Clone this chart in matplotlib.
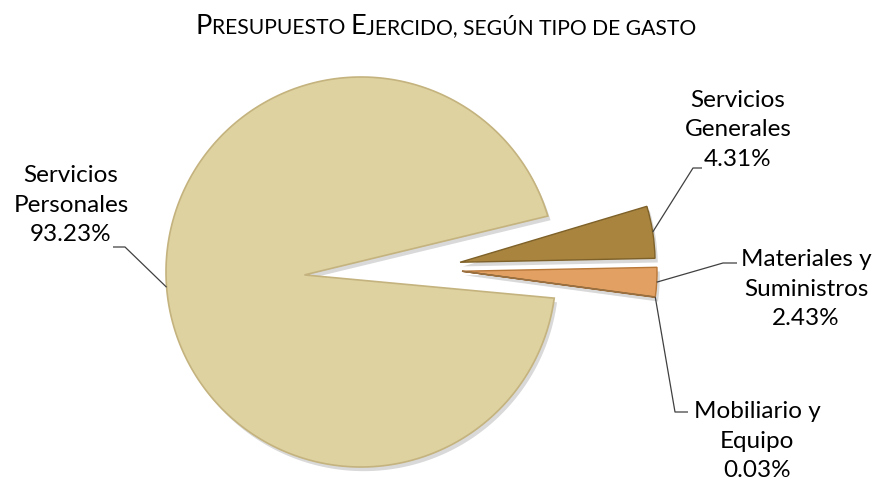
import numpy as np
import matplotlib
matplotlib.use('Agg')
import matplotlib.pyplot as plt
from matplotlib.path import Path
from matplotlib.patches import PathPatch
from matplotlib.offsetbox import TextArea, HPacker, AnnotationBbox
import matplotlib.patheffects as pe

# ---------------- data ----------------
categories = ['Servicios\nPersonales', 'Servicios\nGenerales',
              'Materiales y\nSuministros', 'Mobiliario y\nEquipo']
values = [93.23, 4.31, 2.43, 0.03]
pct_labels = ['93.23%', '4.31%', '2.43%', '0.03%']
title_parts = [('P', 'big'), ('RESUPUESTO ', 'small'), ('E', 'big'),
               ('JERCIDO, SEGÚN TIPO DE GASTO', 'small')]

# ---------------- style ----------------
FONT = 'Lato'
colors = ['#DED2A0', '#A8843F', '#E2A063', '#C99A60']
edges = ['#C4B37E', '#7E6128', '#B87838', '#9A7040']
# wedge vertex shifts (fractions of radius)
shifts = [(-0.29, -0.015), (0.508, 0.05), (0.518, 0.004), (0.518, 0.004)]
# label block centres and leader elbow points (pixel layout)
label_pos = [(71, 205), (738, 130), (806, 289), (757, 441)]
leader_elbow = [((113, 247), (125, 247)), ((702, 168), (693, 168)),
                ((737, 263), (723, 263)), ((688, 412), (675, 412))]

W, H = 876, 480
fig = plt.figure(figsize=(W / 100, H / 100), dpi=100)
ax = fig.add_axes([0, 0, 1, 1])

cx, cy = 361, H - 272
R = 195
wedges, _ = ax.pie(values, colors=colors, startangle=352.3, counterclock=False,
                   center=(cx, cy), radius=R, frame=True,
                   wedgeprops=dict(linewidth=0))
ax.set_xlim(0, W)
ax.set_ylim(0, H)
ax.set_aspect('equal')
ax.axis('off')

shadow = [pe.SimplePatchShadow(offset=(2, -3), shadow_rgbFace='k', alpha=0.15), pe.Normal()]

anchor_pts = []
for i, w in enumerate(wedges):
    t1, t2 = w.theta1, w.theta2
    mid = np.deg2rad((t1 + t2) / 2)
    dx, dy = shifts[i]
    if i == 0:
        # big wedge: arc around pie centre, vertex pulled to the left
        th = np.deg2rad(np.linspace(t1, t2, 300))
        vx, vy = cx + dx * R, cy + dy * R
        verts = [(vx, vy)] + list(zip(cx + R * np.cos(th), cy + R * np.sin(th))) + [(vx, vy)]
        codes = [Path.MOVETO] + [Path.LINETO] * len(th) + [Path.CLOSEPOLY]
        w.remove()
        p = PathPatch(Path(verts, codes), facecolor=colors[i], edgecolor=edges[i],
                      linewidth=1.2, path_effects=shadow, zorder=2)
        ax.add_patch(p)
        anchor_pts.append((cx + R * np.cos(mid), cy + R * np.sin(mid)))
    else:
        ncx, ncy = cx + dx * R, cy + dy * R
        w.set_center((ncx, ncy))
        w.set_edgecolor(edges[i])
        w.set_linewidth(1.0)
        w.set_path_effects(shadow)
        w.set_zorder(2)
        anchor_pts.append((ncx + R * np.cos(mid), ncy + R * np.sin(mid)))

# labels
for i in range(len(values)):
    x, y = label_pos[i]
    ax.text(x, H - y, categories[i] + '\n' + pct_labels[i], ha='center', va='center',
            multialignment='center', fontsize=17.5, family=FONT, color='#000000',
            linespacing=1.5, zorder=5)
    (ax1, ay1), (ax2, ay2) = leader_elbow[i]
    px, py = anchor_pts[i]
    ax.plot([ax1, ax2, px], [H - ay1, H - ay2, py], color='#404040', lw=0.9,
            zorder=4, solid_capstyle='butt')

# title in small caps
boxes = []
for txt, kind in title_parts:
    size = 19.5 if kind == 'big' else 15.2
    boxes.append(TextArea(txt, textprops=dict(size=size, family=FONT, color='#000000')))
tbox = HPacker(children=boxes, align='baseline', pad=0, sep=0)
ab = AnnotationBbox(tbox, (446, H - 27), xycoords='data', frameon=False,
                    box_alignment=(0.5, 0.5))
ax.add_artist(ab)

fig.savefig('out.png', dpi=100, facecolor='white')
